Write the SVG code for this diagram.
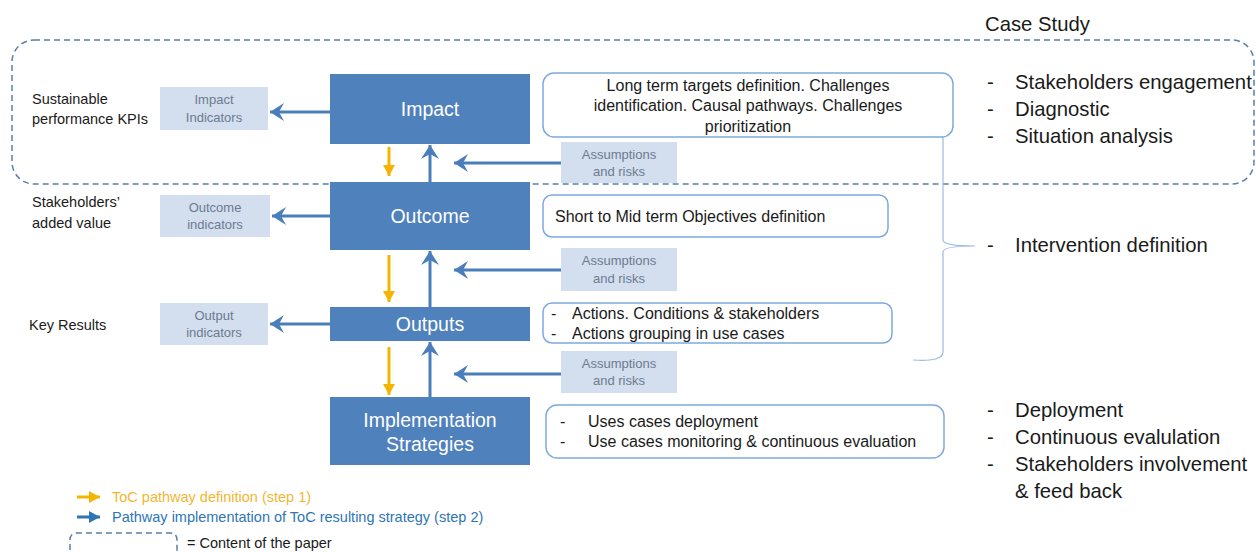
<svg xmlns="http://www.w3.org/2000/svg" width="1256" height="552" viewBox="0 0 1256 552">
<style>
.main{fill:#4f81bd}
.mt{fill:#fff;font-family:"Liberation Sans",Arial,sans-serif;font-size:19.5px;text-anchor:middle}
.ind{fill:#d3deef}
.it{fill:#6c7b90;font-family:"Liberation Sans",Arial,sans-serif;font-size:13px;text-anchor:middle}
.tb{fill:#fff;stroke:#7eaadd;stroke-width:1.5}
.t{fill:#1a1a1a;font-family:"Liberation Sans",Arial,sans-serif;font-size:16px}
.lab{fill:#1a1a1a;font-family:"Liberation Sans",Arial,sans-serif;font-size:14.5px}
.rt{fill:#1a1a1a;font-family:"Liberation Sans",Arial,sans-serif;font-size:20.3px}
.lg{font-family:"Liberation Sans",Arial,sans-serif;font-size:14.5px}
.blue{stroke:#4a7ebb;stroke-width:3;fill:none}
.yel{stroke:#f5b400;stroke-width:3;fill:none}
.dash{fill:none;stroke:#5a7fa8;stroke-width:1.5;stroke-dasharray:6 4}
</style>
<defs>
<marker id="bh" markerUnits="userSpaceOnUse" markerWidth="16" markerHeight="18" refX="14" refY="9" orient="auto">
<path d="M14,9 L0,0 L5,9 L0,18 z" fill="#4a7ebb"/>
</marker>
<marker id="yh" markerUnits="userSpaceOnUse" markerWidth="12" markerHeight="12" refX="11" refY="6" orient="auto">
<path d="M11,6 L0,0 L0,12 z" fill="#f5b400"/>
</marker>
<marker id="lbh" markerUnits="userSpaceOnUse" markerWidth="12" markerHeight="12" refX="11" refY="6" orient="auto">
<path d="M11,6 L0,0 L0,12 z" fill="#2e75b6"/>
</marker>
</defs>

<g id="case-study-frame">
<rect class="dash" x="12" y="40" width="1242" height="144" rx="22"/>
<text class="rt" x="985" y="31" font-size="20">Case Study</text>
</g>

<g id="connectors">
<line class="blue" x1="330" y1="112" x2="270" y2="112" marker-end="url(#bh)"/>
<line class="blue" x1="330" y1="216" x2="272" y2="216" marker-end="url(#bh)"/>
<line class="blue" x1="330" y1="324" x2="270" y2="324" marker-end="url(#bh)"/>
<line class="blue" x1="430" y1="182" x2="430" y2="145" marker-end="url(#bh)"/>
<line class="blue" x1="430" y1="307" x2="430" y2="251" marker-end="url(#bh)"/>
<line class="blue" x1="430" y1="397" x2="430" y2="342" marker-end="url(#bh)"/>
<line class="blue" x1="561" y1="163" x2="454" y2="163" marker-end="url(#bh)"/>
<line class="blue" x1="561" y1="270" x2="454" y2="270" marker-end="url(#bh)"/>
<line class="blue" x1="561" y1="374" x2="454" y2="374" marker-end="url(#bh)"/>
<line class="yel" x1="389" y1="147" x2="389" y2="176" marker-end="url(#yh)"/>
<line class="yel" x1="389" y1="255" x2="389" y2="302" marker-end="url(#yh)"/>
<line class="yel" x1="389" y1="347" x2="389" y2="395" marker-end="url(#yh)"/>
<path d="M913,132 Q943,130 943,140 L943,240 Q943,246 975,246 Q943,246 943,252 L943,352 Q943,362 913,360" fill="none" stroke="#9dbde3" stroke-width="1.2"/>
</g>

<g id="impact">
<rect class="main" x="330" y="74" width="200" height="70"/>
<text class="mt" x="430" y="116">Impact</text>
</g>
<g id="outcome">
<rect class="main" x="330" y="182" width="200" height="68"/>
<text class="mt" x="430" y="223">Outcome</text>
</g>
<g id="outputs">
<rect class="main" x="330" y="307" width="200" height="34"/>
<text class="mt" x="430" y="331">Outputs</text>
</g>
<g id="implementation">
<rect class="main" x="330" y="397" width="200" height="68"/>
<text class="mt" x="430" y="427">Implementation</text>
<text class="mt" x="430" y="451">Strategies</text>
</g>

<g id="impact-indicators">
<rect class="ind" x="160" y="87" width="108" height="43"/>
<text class="it" x="214" y="104">Impact</text>
<text class="it" x="214" y="122">Indicators</text>
</g>
<g id="outcome-indicators">
<rect class="ind" x="160" y="195" width="110" height="42"/>
<text class="it" x="215" y="212">Outcome</text>
<text class="it" x="215" y="229">indicators</text>
</g>
<g id="output-indicators">
<rect class="ind" x="160" y="303" width="108" height="42"/>
<text class="it" x="214" y="320">Output</text>
<text class="it" x="214" y="337">indicators</text>
</g>

<g id="assumptions-1">
<rect class="ind" x="561" y="142" width="116" height="41"/>
<text class="it" x="619" y="159">Assumptions</text>
<text class="it" x="619" y="176">and risks</text>
</g>
<g id="assumptions-2">
<rect class="ind" x="561" y="248" width="116" height="43"/>
<text class="it" x="619" y="265">Assumptions</text>
<text class="it" x="619" y="283">and risks</text>
</g>
<g id="assumptions-3">
<rect class="ind" x="561" y="351" width="116" height="42"/>
<text class="it" x="619" y="368">Assumptions</text>
<text class="it" x="619" y="385">and risks</text>
</g>

<g id="label-kpis">
<text class="lab" x="32" y="104">Sustainable</text>
<text class="lab" x="32" y="124">performance KPIs</text>
</g>
<g id="label-stakeholders">
<text class="lab" x="32" y="207">Stakeholders’</text>
<text class="lab" x="32" y="228">added value</text>
</g>
<g id="label-key-results">
<text class="lab" x="29" y="330">Key Results</text>
</g>

<g id="impact-desc">
<rect class="tb" x="543" y="73" width="410" height="64" rx="11"/>
<text class="t" x="748" y="91" text-anchor="middle" font-size="15.6">Long term targets definition. Challenges</text>
<text class="t" x="748" y="111" text-anchor="middle" font-size="15.6">identification. Causal pathways. Challenges</text>
<text class="t" x="748" y="132" text-anchor="middle" font-size="15.6">prioritization</text>
</g>
<g id="outcome-desc">
<rect class="tb" x="543" y="195" width="345" height="42" rx="9"/>
<text class="t" x="555" y="222">Short to Mid term Objectives definition</text>
</g>
<g id="outputs-desc">
<rect class="tb" x="543" y="303" width="349" height="40" rx="9"/>
<text class="t" x="551" y="319">-</text>
<text class="t" x="572" y="319">Actions. Conditions &amp; stakeholders</text>
<text class="t" x="551" y="339">-</text>
<text class="t" x="572" y="339">Actions grouping in use cases</text>
</g>
<g id="implementation-desc">
<rect class="tb" x="546" y="405" width="398" height="53" rx="11"/>
<text class="t" x="560" y="427">-</text>
<text class="t" x="588" y="427">Uses cases deployment</text>
<text class="t" x="560" y="447">-</text>
<text class="t" x="588" y="447">Use cases monitoring &amp; continuous evaluation</text>
</g>

<g id="case-list-1">
<text class="rt" x="987" y="89">-</text><text class="rt" x="1015" y="89">Stakeholders engagement</text>
<text class="rt" x="987" y="116">-</text><text class="rt" x="1015" y="116">Diagnostic</text>
<text class="rt" x="987" y="143">-</text><text class="rt" x="1015" y="143">Situation analysis</text>
</g>
<g id="case-list-2">
<text class="rt" x="987" y="252">-</text><text class="rt" x="1015" y="252">Intervention definition</text>
</g>
<g id="case-list-3">
<text class="rt" x="987" y="417">-</text><text class="rt" x="1015" y="417">Deployment</text>
<text class="rt" x="987" y="444">-</text><text class="rt" x="1015" y="444">Continuous evalulation</text>
<text class="rt" x="987" y="471">-</text><text class="rt" x="1015" y="471">Stakeholders involvement</text>
<text class="rt" x="1015" y="498">&amp; feed back</text>
</g>

<g id="legend">
<line class="yel" x1="77" y1="497" x2="100" y2="497" marker-end="url(#yh)"/>
<text class="lg" x="112" y="502" fill="#f2b632">ToC pathway definition (step 1)</text>
<line stroke="#2e75b6" stroke-width="3" x1="77" y1="517" x2="100" y2="517" marker-end="url(#lbh)"/>
<text class="lg" x="112" y="522" fill="#2e75b6">Pathway implementation of ToC resulting strategy (step 2)</text>
<path class="dash" d="M70,560 L70,540 Q70,533 77,533 L170,533 Q177,533 177,540 L177,560"/>
<text class="lg" x="187" y="548" fill="#1a1a1a">= Content of the paper</text>
</g>
</svg>
